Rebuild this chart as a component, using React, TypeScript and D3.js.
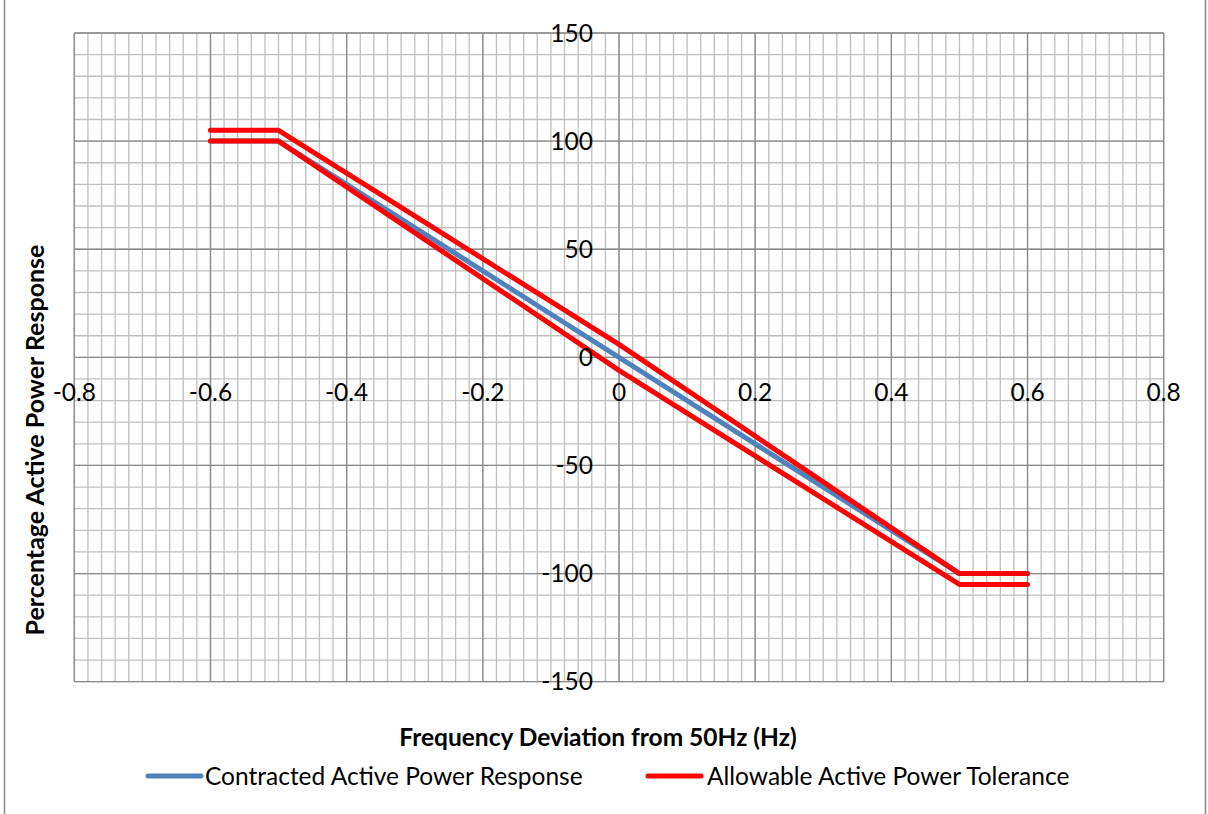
import React from "react";
import * as d3 from "d3";

const xTicks = [-0.8, -0.6, -0.4, -0.2, 0, 0.2, 0.4, 0.6, 0.8];
const xTickLabels = ["-0.8", "-0.6", "-0.4", "-0.2", "0", "0.2", "0.4", "0.6", "0.8"];
const yTicks = [-150, -100, -50, 0, 50, 100, 150];
const yTickLabels = ["-150", "-100", "-50", "0", "50", "100", "150"];

const contractedX = [-0.6, -0.5, 0.5, 0.6];
const contractedY = [100, 100, -100, -100];

const upperX = [-0.6, -0.5, 0, 0.5, 0.6];
const upperY = [105, 105, 6, -100, -100];
const lowerX = [-0.6, -0.5, 0, 0.5, 0.6];
const lowerY = [100, 100, -6, -105, -105];

const W = 1208;
const H = 814;
const FONT = "Lato, 'Open Sans', sans-serif";

export default function App() {
  const x = d3.scaleLinear().domain([-0.8, 0.8]).range([74.3, 1163.7]);
  const y = d3.scaleLinear().domain([-150, 150]).range([681.7, 33]);

  const minorX = d3.range(0, 81).map((i) => -0.8 + i * 0.02);
  const minorY = d3.range(0, 31).map((i) => -150 + i * 10);

  const line = d3
    .line<[number, number]>()
    .x((d) => x(d[0]))
    .y((d) => y(d[1]));

  const contracted = contractedX.map((v, i) => [v, contractedY[i]] as [number, number]);
  const upper = upperX.map((v, i) => [v, upperY[i]] as [number, number]);
  const lower = lowerX.map((v, i) => [v, lowerY[i]] as [number, number]);

  const [x0, x1] = x.range();
  const [y0, y1] = y.range();

  return (
    <svg
      width={W}
      height={H}
      style={{ position: "absolute", left: 0, top: 0, background: "#fff" }}
    >
      <rect x={0} y={0} width={W} height={H} fill="#fff" />
      <line x1={4.5} x2={4.5} y1={0} y2={H} stroke="#878787" strokeWidth={1.5} />
      <line x1={1205.5} x2={1205.5} y1={0} y2={H} stroke="#878787" strokeWidth={1.5} />

      {/* minor grid */}
      <g stroke="#bfbfbf" strokeWidth={1.3}>
        {minorX.map((v, i) => (
          <line key={"mx" + i} x1={x(v)} x2={x(v)} y1={y1} y2={y0} />
        ))}
        {minorY.map((v, i) => (
          <line key={"my" + i} x1={x0} x2={x1} y1={y(v)} y2={y(v)} />
        ))}
      </g>
      {/* major grid */}
      <g stroke="#8a8a8a" strokeWidth={1.3}>
        {xTicks.map((v, i) => (
          <line key={"Mx" + i} x1={x(v)} x2={x(v)} y1={y1} y2={y0} />
        ))}
        {yTicks.map((v, i) => (
          <line key={"My" + i} x1={x0} x2={x1} y1={y(v)} y2={y(v)} />
        ))}
      </g>

      {/* series */}
      <path
        d={line(contracted) || ""}
        fill="none"
        stroke="#4f81bd"
        strokeWidth={5}
        strokeLinecap="round"
        strokeLinejoin="round"
      />
      <path
        d={line(upper) || ""}
        fill="none"
        stroke="#ff0000"
        strokeWidth={5}
        strokeLinecap="round"
        strokeLinejoin="round"
      />
      <path
        d={line(lower) || ""}
        fill="none"
        stroke="#ff0000"
        strokeWidth={5}
        strokeLinecap="round"
        strokeLinejoin="round"
      />

      {/* tick labels */}
      <g fontFamily={FONT} fontSize={24.5} fill="#000">
        {yTicks.map((v, i) => (
          <text key={"yl" + i} x={x(0) - 26} y={y(v)} dy="0.35em" textAnchor="end">
            {yTickLabels[i]}
          </text>
        ))}
        {xTicks.map((v, i) => (
          <text key={"xl" + i} x={x(v)} y={y(0) + 35} dy="0.35em" textAnchor="middle">
            {xTickLabels[i]}
          </text>
        ))}
      </g>

      {/* axis titles */}
      <text
        x={598}
        y={737}
        dy="0.35em"
        textAnchor="middle"
        fontFamily={FONT}
        fontWeight="bold"
        fontSize={24.5}
      >
        Frequency Deviation from 50Hz (Hz)
      </text>
      <text
        transform={`translate(35,440) rotate(-90)`}
        dy="0.35em"
        textAnchor="middle"
        fontFamily={FONT}
        fontWeight="bold"
        fontSize={25}
      >
        Percentage Active Power Response
      </text>

      {/* legend */}
      <line x1={148} x2={201} y1={776} y2={776} stroke="#4f81bd" strokeWidth={5} strokeLinecap="round" />
      <text x={205} y={776} dy="0.35em" fontFamily={FONT} fontSize={24.5}>
        Contracted Active Power Response
      </text>
      <line x1={648} x2={701} y1={776} y2={776} stroke="#ff0000" strokeWidth={5} strokeLinecap="round" />
      <text x={707} y={776} dy="0.35em" fontFamily={FONT} fontSize={24.5}>
        Allowable Active Power Tolerance
      </text>
    </svg>
  );
}
